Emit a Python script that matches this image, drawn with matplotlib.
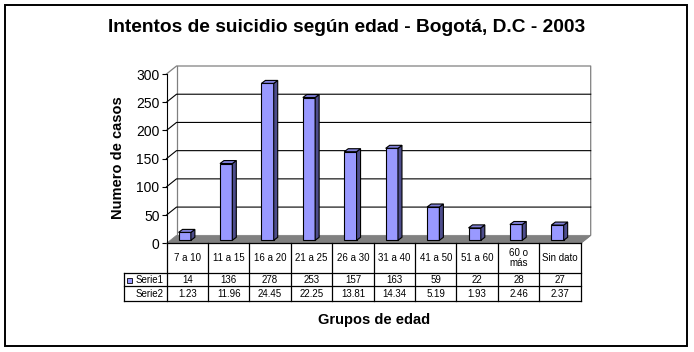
import numpy as np
import matplotlib.pyplot as plt
from matplotlib.patches import Polygon, Rectangle

plt.rcParams['font.family'] = ['Liberation Sans', 'DejaVu Sans']

# data
grupos = ['7 a 10', '11 a 15', '16 a 20', '21 a 25', '26 a 30', '31 a 40',
          '41 a 50', '51 a 60', '60 o\nmás', 'Sin dato']
serie1 = [14, 136, 278, 253, 157, 163, 59, 22, 28, 27]
serie2 = [1.23, 11.96, 24.45, 22.25, 13.81, 14.34, 5.19, 1.93, 2.46, 2.37]
yticks = [0, 50, 100, 150, 200, 250, 300]

W, H = 694, 352
fig = plt.figure(figsize=(W / 100, H / 100), dpi=100)


def px(l, t, r, b):
    return [l / W, 1 - b / H, (r - l) / W, (b - t) / H]


# front plane of the 3d box
ax = fig.add_axes(px(166.5, 74, 580.7, 243.3))
n = len(grupos)
ax.set_xlim(-0.5, n - 0.5)
ax.set_ylim(0, 300)
ax.set_facecolor('none')
for s in ['top', 'right', 'bottom']:
    ax.spines[s].set_visible(False)
ax.spines['left'].set_linewidth(0.8)
ax.set_xticks([])
ax.set_yticks(yticks)
ax.tick_params(axis='y', length=3.5, width=0.8, pad=1.5, labelsize=10)

ppx = 414.2 / n          # pixels per category
ppy = 169.3 / 300        # pixels per unit
DX, DY = 10 / ppx, 8 / ppy
x0, x1 = -0.5, n - 0.5
grey = '#808080'

# back wall + edges
ax.add_patch(Polygon([(x0 + DX, DY), (x1 + DX, DY), (x1 + DX, 300 + DY), (x0 + DX, 300 + DY)],
                     closed=True, fc='white', ec='none', zorder=0, clip_on=False))
ax.plot([x0, x0 + DX, x1 + DX, x1 + DX, x1], [300, 300 + DY, 300 + DY, DY, 0],
        color=grey, lw=0.9, clip_on=False, zorder=1)
ax.plot([x0 + DX, x0 + DX], [DY, 300 + DY], color=grey, lw=0.9, clip_on=False, zorder=1)

# gridlines on side and back wall
for v in yticks[1:-1]:
    ax.plot([x0, x0 + DX, x1 + DX], [v, v + DY, v + DY], color='black', lw=0.8,
            clip_on=False, zorder=1)

# floor
ax.add_patch(Polygon([(x0, 0), (x1, 0), (x1 + DX, DY), (x0 + DX, DY)], closed=True,
                     fc=grey, ec=grey, lw=0.5, zorder=2, clip_on=False))

# bars
w = 12.3 / ppx
bdx, bdy = 4 / ppx, 3 / ppy
base = 3 / ppy
for i, v in enumerate(serie1):
    l = i - 0.06 - w / 2
    r = l + w
    t = base + v
    ax.add_patch(Rectangle((l, base), w, v, fc='#9999FF', ec='black', lw=0.8, zorder=3,
                           clip_on=False))
    ax.add_patch(Polygon([(r, base), (r + bdx, base + bdy), (r + bdx, t + bdy), (r, t)],
                         closed=True, fc='#4D4D8C', ec='black', lw=0.8, zorder=3, clip_on=False))
    ax.add_patch(Polygon([(l, t), (r, t), (r + bdx, t + bdy), (l + bdx, t + bdy)],
                         closed=True, fc='#8080D8', ec='black', lw=0.8, zorder=3, clip_on=False))

# data table
rows = [0, 29.4, 43.0, 57.4]
tax = fig.add_axes(px(166.5, 243.3, 580.7, 300.7), sharex=ax)
tax.set_ylim(rows[-1], 0)
tax.axis('off')
lab_x = x0 - 42.2 / ppx
kw = dict(color='black', lw=0.9, clip_on=False)
for xv in np.arange(n + 1) - 0.5:
    tax.plot([xv, xv], [rows[0], rows[-1]], **kw)
tax.plot([lab_x, lab_x], [rows[1], rows[-1]], **kw)
tax.plot([x0, x1], [rows[0], rows[0]], **kw)
for yv in rows[1:]:
    tax.plot([lab_x, x1], [yv, yv], **kw)

fs = 7
for i in range(n):
    tax.text(i, (rows[0] + rows[1]) / 2, grupos[i], ha='center', va='center', fontsize=fs,
             linespacing=1.05)
    tax.text(i, (rows[1] + rows[2]) / 2 + 0.8, str(serie1[i]), ha='center', va='center', fontsize=fs)
    tax.text(i, (rows[2] + rows[3]) / 2 + 0.3, f'{serie2[i]:.2f}', ha='center', va='center', fontsize=fs)

tax.add_patch(Rectangle((lab_x + 3 / ppx, 36.0 - 4.4 / 2 + 1.0), 4.4 / ppx, 4.4, fc='#9999FF',
                        ec='black', lw=0.6, clip_on=False))
tax.text(lab_x + 11.4 / ppx, (rows[1] + rows[2]) / 2 + 0.8, 'Serie1', ha='left', va='center', fontsize=fs)
tax.text(lab_x + 11.4 / ppx, (rows[2] + rows[3]) / 2 + 0.3, 'Serie2', ha='left', va='center', fontsize=fs)

# labels
fig.text(347 / W, 1 - 28 / H, 'Intentos de suicidio según edad - Bogotá, D.C - 2003',
         ha='center', va='center', fontsize=13.8, weight='bold')
fig.text(118 / W, 1 - 157.5 / H, 'Numero de casos', rotation=90, ha='center', va='center',
         fontsize=10.5, weight='bold')
fig.text(373.8 / W, 1 - 320 / H, 'Grupos de edad', ha='center', va='center',
         fontsize=10.5, weight='bold')

# outer border
fig.add_artist(Rectangle((5.3 / W, 1 - 345.7 / H), 682 / W, 340.4 / H, transform=fig.transFigure,
                         fill=False, ec='black', lw=1.4))

fig.savefig('out.png', dpi=100)
